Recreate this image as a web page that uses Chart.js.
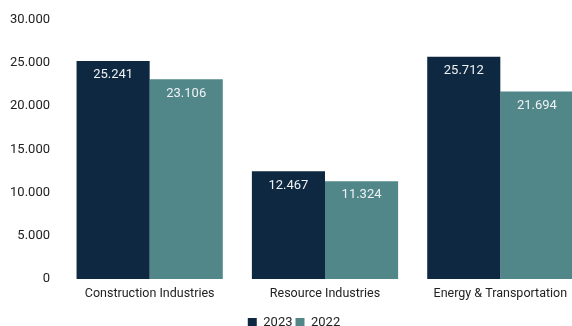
<!DOCTYPE html>
<html>
<head>
<meta charset="utf-8">
<script src="https://cdn.jsdelivr.net/npm/chart.js@4/dist/chart.umd.min.js"></script>
<style>
html,body{margin:0;padding:0;background:#fff;overflow:hidden;}
#wrap{width:588px;height:326px;position:relative;}
</style>
</head>
<body>
<div id="wrap"><canvas id="c"></canvas></div>
<script>
const categories = ["Construction Industries", "Resource Industries", "Energy & Transportation"];
const series2023 = [25241, 12467, 25712];
const series2022 = [23106, 11324, 21694];
const seriesNames = ["2023", "2022"];
const yTicks = [0, 5000, 10000, 15000, 20000, 25000, 30000];

function fmt(v){
  return String(Math.round(v)).replace(/\B(?=(\d{3})+(?!\d))/g, ".");
}

const FONT = "Roboto";

const labelPlugin = {
  id: "barLabels",
  afterDatasetsDraw(chart){
    const ctx = chart.ctx;
    ctx.save();
    ctx.font = "13px " + FONT;
    ctx.fillStyle = "#eef2f5";
    ctx.textAlign = "center";
    ctx.textBaseline = "middle";
    chart.data.datasets.forEach((ds, i) => {
      const meta = chart.getDatasetMeta(i);
      meta.data.forEach((bar, j) => {
        ctx.fillText(fmt(ds.data[j]), bar.x, bar.y + 14);
      });
    });
    ctx.restore();
  }
};

new Chart(document.getElementById("c"), {
  type: "bar",
  data: {
    labels: categories,
    datasets: [
      {label: seriesNames[0], data: series2023, backgroundColor: "#0f2841", borderWidth: 0},
      {label: seriesNames[1], data: series2022, backgroundColor: "#518789", borderWidth: 0}
    ]
  },
  options: {
    responsive: true,
    maintainAspectRatio: false,
    animation: false,
    layout: {padding: {top: 10, right: 0, left: 0, bottom: -13}},
    datasets: {bar: {barPercentage: 1, categoryPercentage: 0.834}},
    plugins: {
      legend: {
        position: "bottom",
        labels: {
          boxWidth: 9, boxHeight: 9, color: "#222", padding: 3,
          font: {family: FONT, size: 13}
        }
      },
      tooltip: {enabled: false}
    },
    scales: {
      x: {
        afterFit(axis){ axis.height += 5; },
        grid: {display: false, drawTicks: false},
        border: {display: false},
        ticks: {color: "#222", font: {family: FONT, size: 12.5}, padding: 7, maxRotation: 0}
      },
      y: {
        min: 0, max: 30000,
        afterBuildTicks(axis){ axis.ticks = yTicks.map(v => ({value: v})); },
        afterFit(axis){ axis.width = 62; },
        grid: {display: false, drawTicks: false},
        border: {display: false},
        ticks: {color: "#222", font: {family: FONT, size: 13}, padding: 12, callback: v => fmt(v)}
      }
    }
  },
  plugins: [labelPlugin]
});
</script>
</body>
</html>
